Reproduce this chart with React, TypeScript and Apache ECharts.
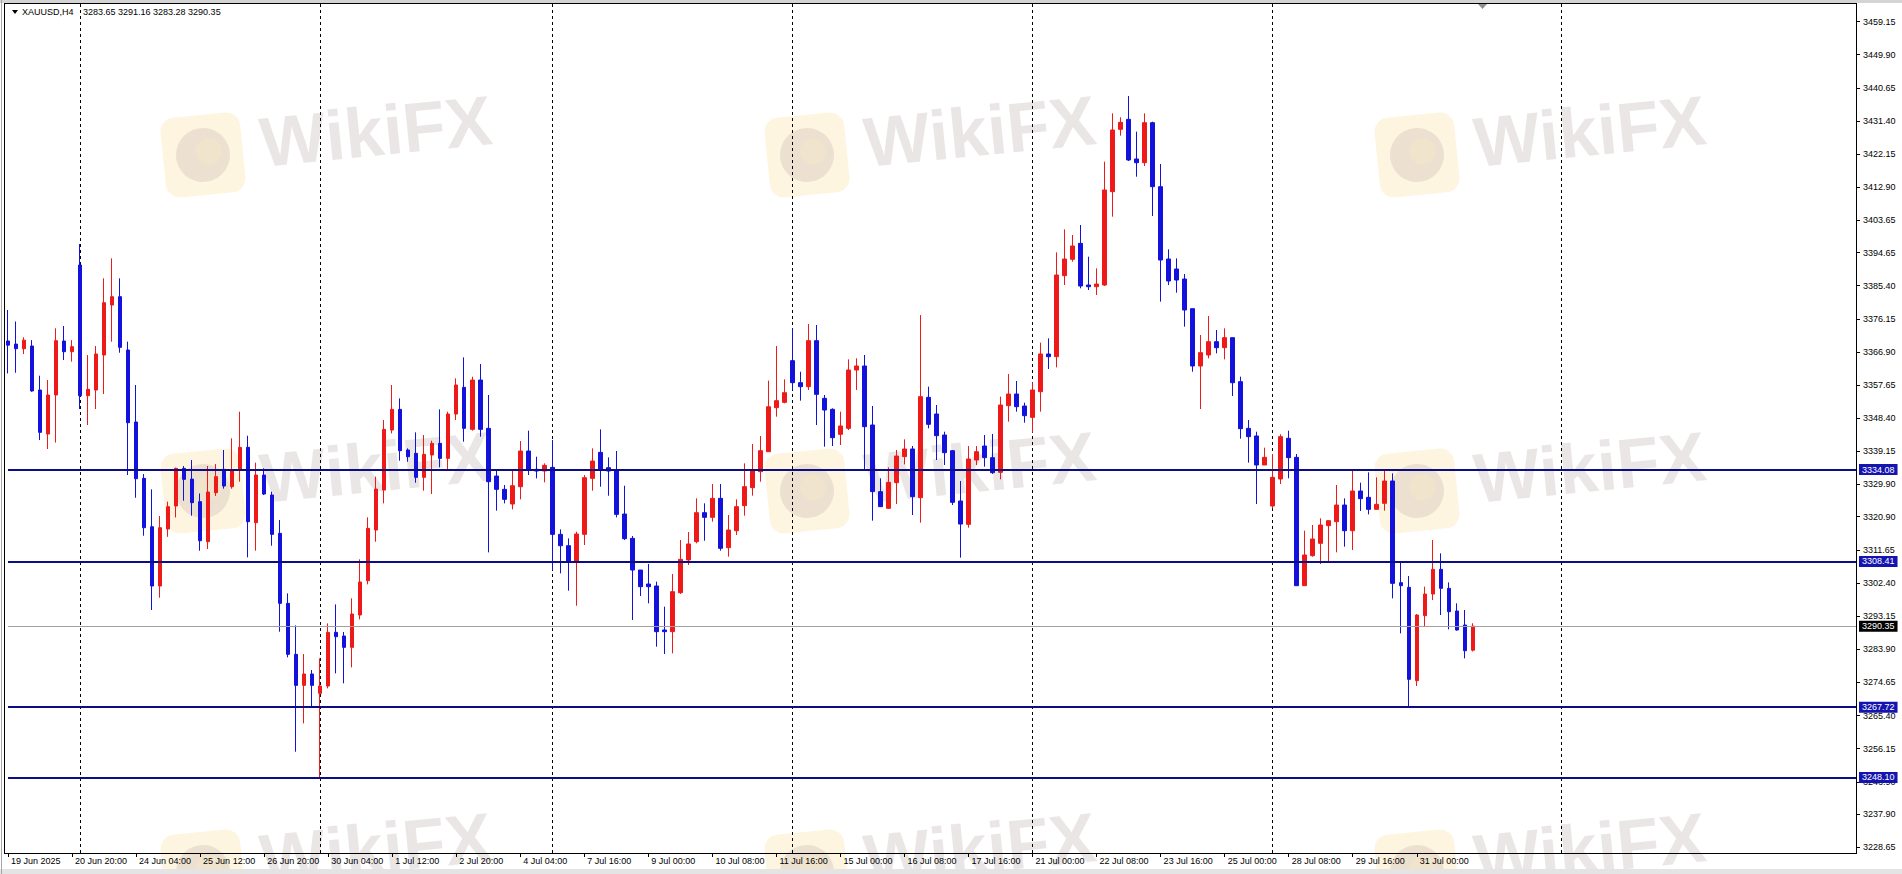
import React, { useEffect, useRef } from 'react';
import * as echarts from 'echarts';

const symbolTitle = 'XAUUSD,H4';
const lastQuote = '3283.65 3291.16 3283.28 3290.35';

const timeLabels = ['19 Jun 2025', '20 Jun 20:00', '24 Jun 04:00', '25 Jun 12:00', '26 Jun 20:00', '30 Jun 04:00', '1 Jul 12:00', '2 Jul 20:00', '4 Jul 04:00', '7 Jul 16:00', '9 Jul 00:00', '10 Jul 08:00', '11 Jul 16:00', '15 Jul 00:00', '16 Jul 08:00', '17 Jul 16:00', '21 Jul 00:00', '22 Jul 08:00', '23 Jul 16:00', '25 Jul 00:00', '28 Jul 08:00', '29 Jul 16:00', '31 Jul 00:00'];

const priceTicks = [3459.15, 3449.90, 3440.65, 3431.40, 3422.15, 3412.90, 3403.65, 3394.65, 3385.40, 3376.15, 3366.90, 3357.65, 3348.40, 3339.15, 3329.90, 3320.90, 3311.65, 3302.40, 3293.15, 3283.90, 3274.65, 3265.40, 3256.15, 3246.90, 3237.90, 3228.65];

const levelLines = [3334.08, 3308.41, 3267.72, 3248.10];
const bidPrice = 3290.35;
const weekStarts = [9, 39, 68, 98, 128, 158, 194];

const opens = [
  3369.95, 3369.10, 3367.80, 3368.56, 3356.27, 3343.99, 3354.88, 3369.95, 3366.97, 3391.17,
  3354.69, 3356.27, 3366.04, 3380.00, 3382.33, 3367.44, 3347.34, 3331.61, 3318.10, 3301.56,
  3317.47, 3323.89, 3334.40, 3331.40, 3325.10, 3313.93, 3327.60, 3334.12, 3329.28, 3334.12,
  3340.27, 3319.23, 3332.54, 3326.96, 3316.26, 3296.71, 3282.48, 3273.82, 3276.99, 3271.59,
  3273.64, 3288.62, 3287.60, 3284.43, 3293.46, 3303.04, 3317.19, 3328.35, 3345.10, 3350.87,
  3339.52, 3338.59, 3331.89, 3338.12, 3341.38, 3337.19, 3349.57, 3357.02, 3345.29, 3359.06,
  3345.57, 3332.26, 3328.54, 3324.45, 3329.28, 3339.24, 3334.12, 3333.66, 3334.68, 3315.98,
  3312.81, 3308.35, 3315.98, 3331.61, 3338.87, 3334.59, 3333.94, 3321.65, 3314.86, 3306.02,
  3302.11, 3301.56, 3289.28, 3288.81, 3299.70, 3308.82, 3313.94, 3322.03, 3320.73, 3326.03,
  3312.26, 3317.00, 3323.99, 3329.01, 3333.48, 3339.06, 3351.34, 3352.83, 3364.47, 3358.32,
  3357.21, 3370.05, 3353.95, 3350.88, 3343.90, 3345.57, 3361.86, 3362.98, 3346.51, 3327.90,
  3323.24, 3330.41, 3337.67, 3339.81, 3326.22, 3354.23, 3349.58, 3343.71, 3339.34, 3325.29,
  3318.77, 3336.73, 3340.64, 3337.39, 3333.29, 3351.90, 3355.16, 3351.81, 3348.64, 3355.81,
  3366.33, 3365.58, 3388.20, 3392.76, 3397.22, 3385.59, 3385.12, 3385.59, 3411.65, 3429.05,
  3431.84, 3420.77, 3419.74, 3430.91, 3413.04, 3392.85, 3390.06, 3387.26, 3378.98, 3362.98,
  3366.05, 3369.77, 3368.09, 3370.89, 3358.60, 3345.57, 3343.44, 3335.34, 3323.89, 3331.43,
  3342.79, 3337.48, 3301.65, 3310.03, 3313.47, 3318.40, 3319.52, 3324.17, 3317.00, 3328.08,
  3326.31, 3322.96, 3324.64, 3330.87, 3302.49, 3301.19, 3275.13, 3293.28, 3299.32, 3306.21,
  3300.91, 3294.58, 3290.67, 3283.65
];

const highs = [
  3378.60, 3375.40, 3371.00, 3370.20, 3360.27, 3359.06, 3373.50, 3374.14, 3370.20, 3397.03,
  3366.04, 3368.56, 3387.45, 3393.03, 3387.45, 3369.77, 3357.67, 3332.82, 3328.54, 3321.10,
  3325.10, 3334.60, 3335.06, 3336.73, 3327.40, 3335.06, 3335.60, 3339.52, 3342.78, 3350.22,
  3343.52, 3335.99, 3334.40, 3327.89, 3319.98, 3299.50, 3290.57, 3282.57, 3278.10, 3281.36,
  3291.13, 3296.43, 3288.71, 3298.11, 3309.00, 3320.72, 3332.08, 3347.89, 3357.67, 3353.94,
  3339.99, 3344.45, 3343.71, 3342.13, 3350.87, 3350.22, 3359.53, 3365.39, 3359.99, 3363.53,
  3354.88, 3333.94, 3329.75, 3333.94, 3342.03, 3344.92, 3337.66, 3335.80, 3342.31, 3317.37,
  3314.86, 3316.72, 3332.54, 3339.99, 3345.29, 3337.47, 3339.24, 3329.56, 3315.51, 3306.02,
  3307.70, 3302.77, 3295.79, 3304.91, 3314.40, 3316.63, 3326.03, 3324.64, 3330.03, 3330.03,
  3321.38, 3325.75, 3335.80, 3341.20, 3343.43, 3358.88, 3368.56, 3359.25, 3373.49, 3361.39,
  3374.70, 3374.42, 3354.88, 3351.16, 3350.23, 3364.84, 3365.12, 3366.05, 3351.81, 3331.62,
  3334.69, 3339.53, 3342.50, 3340.64, 3377.20, 3357.21, 3352.09, 3344.64, 3339.53, 3330.87,
  3340.64, 3340.64, 3343.71, 3344.00, 3354.42, 3360.74, 3358.79, 3352.74, 3358.42, 3369.49,
  3370.70, 3394.71, 3401.13, 3399.55, 3402.34, 3393.50, 3390.24, 3420.02, 3433.51, 3432.40,
  3438.35, 3428.40, 3433.51, 3431.19, 3419.37, 3395.55, 3393.03, 3388.66, 3378.98, 3371.63,
  3376.94, 3373.03, 3373.49, 3370.89, 3360.00, 3347.90, 3344.64, 3340.18, 3338.41, 3343.90,
  3344.92, 3338.41, 3317.00, 3318.59, 3320.45, 3319.80, 3329.75, 3326.03, 3333.94, 3330.41,
  3333.29, 3331.90, 3333.94, 3333.01, 3308.35, 3304.35, 3293.74, 3301.37, 3314.40, 3310.68,
  3302.58, 3296.72, 3294.86, 3291.16
];

const lows = [
  3360.90, 3361.10, 3366.30, 3355.80, 3342.30, 3339.80, 3341.60, 3364.65, 3364.20, 3350.97,
  3346.50, 3350.97, 3355.16, 3369.77, 3366.69, 3332.54, 3326.20, 3315.60, 3294.86, 3298.30,
  3315.30, 3320.70, 3325.38, 3321.20, 3311.40, 3311.88, 3326.70, 3328.73, 3328.73, 3330.68,
  3309.56, 3311.42, 3326.96, 3312.81, 3288.80, 3281.64, 3255.30, 3263.21, 3267.59, 3248.10,
  3272.99, 3277.17, 3274.38, 3278.85, 3292.25, 3302.02, 3313.93, 3324.63, 3344.17, 3336.54,
  3336.26, 3330.40, 3328.17, 3327.24, 3334.68, 3333.75, 3347.90, 3341.85, 3344.92, 3343.25,
  3310.95, 3322.59, 3324.63, 3322.96, 3325.75, 3332.54, 3331.61, 3330.50, 3306.02, 3305.09,
  3300.25, 3296.06, 3313.00, 3328.17, 3329.28, 3326.77, 3320.72, 3314.40, 3292.06, 3298.76,
  3296.71, 3284.62, 3282.58, 3282.76, 3299.33, 3307.42, 3313.47, 3314.21, 3319.52, 3311.42,
  3309.75, 3315.80, 3321.19, 3326.78, 3330.68, 3339.06, 3348.83, 3352.55, 3356.28, 3353.30,
  3356.28, 3346.50, 3340.46, 3340.64, 3340.92, 3345.11, 3356.28, 3333.94, 3319.80, 3323.71,
  3323.06, 3324.45, 3335.52, 3321.38, 3319.24, 3345.57, 3336.73, 3335.34, 3324.17, 3309.47,
  3317.84, 3335.34, 3334.87, 3332.83, 3331.34, 3347.44, 3350.23, 3347.16, 3344.36, 3350.23,
  3362.14, 3362.60, 3385.59, 3392.10, 3384.66, 3384.19, 3382.80, 3385.31, 3404.67, 3427.28,
  3420.21, 3415.83, 3418.81, 3404.85, 3380.94, 3385.59, 3383.45, 3373.96, 3361.39, 3350.97,
  3365.12, 3366.51, 3364.84, 3354.60, 3342.69, 3336.00, 3324.45, 3335.34, 3323.24, 3330.03,
  3331.62, 3301.65, 3301.65, 3309.75, 3307.70, 3308.35, 3310.96, 3312.54, 3311.61, 3322.50,
  3321.56, 3322.96, 3322.59, 3298.11, 3288.34, 3267.72, 3273.64, 3290.20, 3297.65, 3293.46,
  3289.46, 3289.09, 3281.36, 3283.28
];

const closes = [
  3368.80, 3367.80, 3370.20, 3356.00, 3344.45, 3354.88, 3370.04, 3366.97, 3368.37, 3354.69,
  3356.46, 3366.32, 3380.65, 3382.33, 3368.18, 3347.15, 3331.52, 3317.84, 3301.56, 3317.84,
  3323.70, 3334.40, 3331.33, 3324.82, 3314.20, 3327.80, 3332.08, 3329.47, 3333.75, 3340.27,
  3319.51, 3332.54, 3327.24, 3315.98, 3296.71, 3282.48, 3273.82, 3276.99, 3273.82, 3273.64,
  3288.62, 3287.41, 3284.43, 3293.74, 3302.67, 3317.65, 3328.63, 3345.29, 3350.87, 3339.33,
  3337.66, 3331.89, 3338.31, 3341.38, 3337.19, 3349.57, 3357.67, 3345.57, 3359.06, 3345.29,
  3330.68, 3328.54, 3325.75, 3329.56, 3339.24, 3333.94, 3333.66, 3335.24, 3315.98, 3312.81,
  3308.35, 3316.07, 3331.80, 3336.45, 3333.94, 3333.66, 3321.56, 3314.77, 3306.02, 3301.37,
  3301.37, 3288.81, 3288.81, 3299.98, 3309.00, 3313.29, 3322.03, 3320.73, 3326.03, 3312.08,
  3317.19, 3323.71, 3329.29, 3333.94, 3339.34, 3351.60, 3353.30, 3355.53, 3358.32, 3357.21,
  3370.05, 3355.07, 3350.69, 3342.97, 3346.23, 3361.86, 3362.98, 3346.04, 3327.90, 3323.71,
  3330.50, 3337.85, 3339.81, 3326.50, 3354.42, 3346.69, 3343.53, 3338.78, 3324.92, 3318.86,
  3337.01, 3339.06, 3337.39, 3333.20, 3352.09, 3355.16, 3351.62, 3349.11, 3356.28, 3366.33,
  3365.58, 3388.38, 3392.85, 3396.48, 3385.31, 3385.12, 3385.87, 3412.11, 3428.86, 3431.00,
  3420.49, 3419.74, 3430.91, 3413.04, 3392.57, 3386.71, 3386.98, 3378.61, 3362.98, 3366.70,
  3369.77, 3368.09, 3370.89, 3358.32, 3345.48, 3343.25, 3335.34, 3337.48, 3331.89, 3343.25,
  3337.39, 3301.65, 3310.21, 3314.68, 3318.59, 3319.80, 3324.17, 3317.00, 3328.08, 3325.94,
  3322.96, 3324.36, 3330.87, 3302.30, 3301.65, 3275.50, 3293.46, 3299.32, 3306.21, 3300.91,
  3294.39, 3289.27, 3283.50, 3290.35
];

const SLOTS = 232;
const FONT = '"Liberation Sans", Arial, sans-serif';
const UP = '#ee1a1a';
const DOWN = '#1212dc';
const LEVEL = '#0c0c85';
const LEVEL_BG = '#1414b0';

const wmCols = [203, 807, 1417];
const wmRows = [155, 491, 872];

function watermark(cx: number, cy: number) {
  return {
    type: 'group',
    x: cx,
    y: cy,
    rotation: 0.1,
    silent: true,
    children: [
      { type: 'rect', shape: { x: -40, y: -40, width: 80, height: 80, r: 14 }, style: { fill: 'rgba(250,215,130,0.25)' } },
      { type: 'circle', shape: { cx: 0, cy: 0, r: 27 }, style: { fill: 'rgba(140,125,125,0.16)' } },
      { type: 'circle', shape: { cx: 6, cy: -3, r: 13 }, style: { fill: 'rgba(250,235,200,0.35)' } },
      {
        type: 'text',
        style: {
          x: 58, y: -6, text: 'WikiFX', fill: 'rgba(175,160,160,0.26)',
          font: 'bold 70px "Liberation Sans", Arial, sans-serif', align: 'left', verticalAlign: 'middle'
        }
      }
    ]
  };
}

export default function App() {
  const ref = useRef<HTMLDivElement>(null);
  useEffect(() => {
    if (!ref.current) return;
    const chart = echarts.init(ref.current, null, { renderer: 'svg' });
    const categories = Array.from({ length: SLOTS }, (_, i) => String(i));
    const candles = opens.map((o, i) => [o, closes[i], lows[i], highs[i]]);
    const isLabelIdx = (idx: number) => idx % 8 === 0 && idx / 8 < timeLabels.length;

    const wm: any[] = [];
    wmRows.forEach((ry) => wmCols.forEach((cx) => wm.push(watermark(cx, ry))));

    const option: any = {
      animation: false,
      backgroundColor: '#ffffff',
      grid: { left: 8, right: 45, top: 4, bottom: 21, containLabel: false },
      xAxis: {
        type: 'category',
        data: categories,
        boundaryGap: false,
        axisLine: { show: false },
        axisTick: { show: true, interval: (i: number) => isLabelIdx(i), length: 4, lineStyle: { color: '#000', width: 1 } },
        axisLabel: {
          show: true,
          interval: (i: number) => isLabelIdx(i),
          formatter: (_v: string, i: number) => timeLabels[i / 8] ?? '',
          align: 'left',
          padding: [0, 0, 0, 3],
          margin: 3,
          fontSize: 9,
          color: '#000',
          fontFamily: FONT
        },
        splitLine: {
          show: true,
          interval: (i: number) => weekStarts.includes(i),
          lineStyle: { color: '#000', width: 1, type: [3, 3] }
        }
      },
      yAxis: {
        type: 'value',
        position: 'right',
        min: 3227.02,
        max: 3464.04,
        scale: true,
        axisLine: { show: false },
        axisTick: { show: true, customValues: priceTicks, length: 3, lineStyle: { color: '#000' } },
        axisLabel: {
          show: true,
          customValues: priceTicks,
          formatter: (v: number) => v.toFixed(2),
          margin: 6,
          fontSize: 9,
          color: '#000',
          fontFamily: FONT
        },
        splitLine: { show: false }
      },
      series: [
        {
          type: 'candlestick',
          data: candles,
          barWidth: 4,
          clip: false,
          itemStyle: { color: UP, color0: DOWN, borderColor: UP, borderColor0: DOWN, borderWidth: 1 },
          markLine: {
            silent: true,
            symbol: ['none', 'none'],
            animation: false,
            data: [
              ...levelLines.map((v) => ({
                yAxis: v,
                lineStyle: { color: LEVEL, width: 2, type: 'solid' },
                label: {
                  show: true, position: 'end', distance: 2, formatter: v.toFixed(2),
                  color: '#fff', backgroundColor: LEVEL_BG, padding: [1, 3, 0, 3],
                  fontSize: 9, fontFamily: FONT, lineHeight: 10
                }
              })),
              {
                yAxis: bidPrice,
                lineStyle: { color: '#a0a0a0', width: 1, type: 'solid' },
                label: {
                  show: true, position: 'end', distance: 2, formatter: bidPrice.toFixed(2),
                  color: '#fff', backgroundColor: '#000', padding: [1, 3, 0, 3],
                  fontSize: 9, fontFamily: FONT, lineHeight: 10
                }
              }
            ]
          }
        }
      ],
      graphic: [
        ...wm,
        { type: 'rect', z: 100, silent: true, shape: { x: 0, y: 0, width: 1902, height: 3 }, style: { fill: '#d4d4d4' } },
        { type: 'rect', z: 100, silent: true, shape: { x: 0, y: 869, width: 1902, height: 5 }, style: { fill: '#e4e4e4' } },
        { type: 'line', z: 100, silent: true, shape: { x1: 1.5, y1: 0, x2: 1.5, y2: 874 }, style: { stroke: '#a8a8a8', lineWidth: 1 } },
        { type: 'line', z: 100, silent: true, shape: { x1: 4.5, y1: 3, x2: 4.5, y2: 854 }, style: { stroke: '#000', lineWidth: 1 } },
        { type: 'line', z: 100, silent: true, shape: { x1: 4.5, y1: 3.5, x2: 1857, y2: 3.5 }, style: { stroke: '#000', lineWidth: 1 } },
        { type: 'line', z: 100, silent: true, shape: { x1: 4.5, y1: 853.5, x2: 1857, y2: 853.5 }, style: { stroke: '#000', lineWidth: 1 } },
        { type: 'line', z: 100, silent: true, shape: { x1: 1856.5, y1: 3.5, x2: 1856.5, y2: 853.5 }, style: { stroke: '#000', lineWidth: 1 } },
        { type: 'polygon', z: 100, silent: true, shape: { points: [[12, 10], [18, 10], [15, 14]] }, style: { fill: '#000' } },
        { type: 'polygon', z: 100, silent: true, shape: { points: [[1478, 4], [1487, 4], [1482.5, 9]] }, style: { fill: '#909090' } },
        {
          type: 'text', z: 100, silent: true,
          style: { x: 22, y: 12, text: symbolTitle, fill: '#000', font: '9px ' + FONT, align: 'left', verticalAlign: 'middle' }
        },
        {
          type: 'text', z: 100, silent: true,
          style: { x: 83, y: 12, text: lastQuote, fill: '#000', font: '9px ' + FONT, align: 'left', verticalAlign: 'middle' }
        }
      ]
    };
    chart.setOption(option);
    return () => chart.dispose();
  }, []);
  return (
    <div
      ref={ref}
      style={{ position: 'fixed', left: 0, top: 0, width: 1902, height: 874, background: '#fff' }}
    />
  );
}
